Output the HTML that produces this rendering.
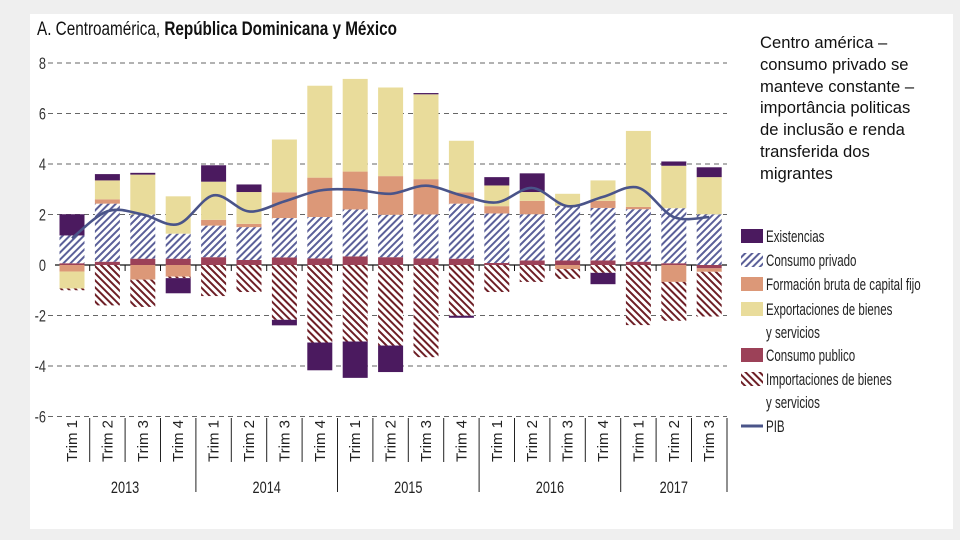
<!DOCTYPE html>
<html><head><meta charset="utf-8"><style>
html,body{margin:0;padding:0;width:960px;height:540px;overflow:hidden;background:#efefef;font-family:"Liberation Sans",sans-serif}
svg{position:absolute;left:0;top:0}
.note{position:absolute;left:760px;top:32px;font-family:"Liberation Sans",sans-serif;font-size:16.6px;line-height:21.8px;color:#111;white-space:nowrap}
</style></head><body>
<svg id="chart" width="960" height="540">
<defs>
<pattern id="hPriv" patternUnits="userSpaceOnUse" width="5" height="5" patternTransform="rotate(-45)">
<rect width="5" height="5" fill="#fff"/><rect width="5" height="2" fill="#5b6099"/></pattern>
<pattern id="hImp" patternUnits="userSpaceOnUse" width="5" height="5" patternTransform="rotate(45)">
<rect width="5" height="5" fill="#fff"/><rect width="5" height="2" fill="#6e1f26"/></pattern>
</defs>
<rect x="30" y="14" width="923" height="515" fill="#fff"/>
<text x="37" y="35" font-size="19" fill="#111" textLength="360" lengthAdjust="spacingAndGlyphs">A. Centroamérica, <tspan font-weight="bold">República Dominicana y México</tspan></text>
<g id="grid"></g><g id="bars"></g><g id="line"></g><g id="xaxis"></g><g id="legend"></g>
</svg>
<div class="note">Centro américa –<br>consumo privado se<br>manteve constante –<br>importância politicas<br>de inclusão e renda<br>transferida dos<br>migrantes</div>
<script>
const categories=["T1","T2","T3","T4","T1","T2","T3","T4","T1","T2","T3","T4","T1","T2","T3","T4","T1","T2","T3"];
const years=["2013","2014","2015","2016","2017"];
const quarterLabels=["Trim 1","Trim 2","Trim 3","Trim 4","Trim 1","Trim 2","Trim 3","Trim 4","Trim 1","Trim 2","Trim 3","Trim 4","Trim 1","Trim 2","Trim 3","Trim 4","Trim 1","Trim 2","Trim 3"];
const consumoPublico=[0.07,0.13,0.25,0.25,0.31,0.2,0.3,0.26,0.34,0.31,0.26,0.25,0.08,0.18,0.18,0.18,0.13,0.07,-0.13];
const consumoPrivado=[1.1,2.3,1.75,0.99,1.25,1.3,1.56,1.64,1.86,1.68,1.74,2.18,1.96,1.83,2.17,2.08,2.08,2.18,2.01];
const fbkf=[-0.26,0.17,-0.58,-0.46,0.23,0.13,1.02,1.56,1.5,1.53,1.4,0.45,0.29,0.53,-0.16,0.28,0.09,-0.67,-0.14];
const exportaciones=[-0.67,0.75,1.58,1.48,1.51,1.26,2.09,3.64,3.67,3.51,3.36,2.04,0.82,0.35,0.47,0.81,3.01,1.68,1.47];
const importaciones=[-0.07,-1.6,-1.08,-0.06,-1.23,-1.07,-2.17,-3.07,-3.03,-3.19,-3.65,-2.01,-1.07,-0.67,-0.39,-0.31,-2.38,-1.54,-1.77];
const existencias=[0.84,0.25,0.07,-0.6,0.65,0.3,-0.22,-1.1,-1.44,-1.05,0.05,-0.08,0.33,0.74,0,-0.45,0,0.17,0.39];
const pib=[1.06,2.13,2.0,1.62,2.76,2.12,2.52,2.95,2.98,2.82,3.14,2.76,2.48,3.05,2.33,2.7,3.06,1.9,1.9];
const yTicks=[8,6,4,2,0,-2,-4,-6];

const NS="http://www.w3.org/2000/svg";
function mk(tag,attrs,parent){const e=document.createElementNS(NS,tag);for(const k in attrs)e.setAttribute(k,attrs[k]);parent.appendChild(e);return e;}
const y=v=>265-v*25.25;
const x=i=>72+i*35.4;
const bw=25;
const grid=document.getElementById('grid');
yTicks.forEach(t=>{
  const g=mk('g',{transform:`translate(46,${y(t)+6}) scale(0.75,1)`},grid);
  const lbl=mk('text',{x:0,y:0,'font-size':17,fill:'#333','text-anchor':'end'},g);lbl.textContent=t;
  
  
  if(t!==0){const l=mk('line',{x1:48,x2:727,y1:y(t),y2:y(t),stroke:'#666','stroke-dasharray':'5,4','stroke-width':1},grid);
  
  }
});
const series=[
 {name:'consumo-publico',d:consumoPublico,fill:'#9c4158'},
 {name:'consumo-privado',d:consumoPrivado,fill:'url(#hPriv)'},
 {name:'formacion-bruta',d:fbkf,fill:'#dc9878'},
 {name:'exportaciones',d:exportaciones,fill:'#e9dc9b'},
 {name:'importaciones',d:importaciones,fill:'url(#hImp)'},
 {name:'existencias',d:existencias,fill:'#4b1a5f'}];
const bars=document.getElementById('bars');
categories.forEach((c,i)=>{
  let pos=0,neg=0;
  series.forEach(s=>{
    const v=s.d[i];if(!v)return;
    let a,b;
    if(v>0){a=pos;b=pos+v;pos=b;}else{a=neg;b=neg+v;neg=b;}
    const r=mk('rect',{x:x(i)-bw/2,y:Math.min(y(a),y(b)),width:bw,height:Math.abs(y(a)-y(b)),fill:s.fill},bars);
    
    
  });
});
const zl=mk('line',{x1:55,x2:727,y1:y(0),y2:y(0),stroke:'#111','stroke-width':1.3},grid);


for(let i=1;i<categories.length;i++){const t=mk('line',{x1:x(i)-17.7,x2:x(i)-17.7,y1:y(0),y2:y(0)+6,stroke:'#111'},grid);

}
const pts=pib.map((v,i)=>[x(i),y(v)]);
let d='M'+pts[0][0]+','+pts[0][1];
for(let i=0;i<pts.length-1;i++){
 const p0=pts[Math.max(0,i-1)],p1=pts[i],p2=pts[i+1],p3=pts[Math.min(pts.length-1,i+2)];
 const c1=[p1[0]+(p2[0]-p0[0])/6,p1[1]+(p2[1]-p0[1])/6],c2=[p2[0]-(p3[0]-p1[0])/6,p2[1]-(p3[1]-p1[1])/6];
 d+=` C${c1[0]},${c1[1]} ${c2[0]},${c2[1]} ${p2[0]},${p2[1]}`;
}
const pl=mk('path',{d:d,fill:'none',stroke:'#4a5489','stroke-width':2.6},document.getElementById('line'));


const xa=document.getElementById('xaxis');
quarterLabels.forEach((q,i)=>{
  const t=mk('text',{x:0,y:0,'font-size':15,fill:'#222','text-anchor':'end',transform:`translate(${x(i)+5},420) rotate(-90)`},xa);
  t.textContent=q;
  
  
  if(i>0){const l=mk('line',{x1:x(i)-17.7,x2:x(i)-17.7,y1:418,y2:i%4===0?492:462,stroke:'#222'},xa);
  
  }
});
const l2=mk('line',{x1:727,x2:727,y1:418,y2:492,stroke:'#222'},xa);


years.forEach((yr,k)=>{
  const n=Math.min(4,categories.length-k*4);
  const cx=(x(k*4)+x(k*4+n-1))/2;
  const g=mk('g',{transform:`translate(${cx},493) scale(0.75,1)`},xa);
  const t=mk('text',{x:0,y:0,'font-size':17,fill:'#222','text-anchor':'middle'},g);
  t.textContent=yr;
  
  
});
const lg=document.getElementById('legend');
const items=[['Existencias','#4b1a5f',236,null],['Consumo privado','url(#hPriv)',260,null],['Formación bruta de capital fijo','#dc9878',284,null],['Exportaciones de bienes','#e9dc9b',309,'y servicios'],['Consumo publico','#9c4158',355,null],['Importaciones de bienes','url(#hImp)',379,'y servicios'],['PIB',null,426,null]];
items.forEach(it=>{
  if(it[1]){const r=mk('rect',{x:741,y:it[2]-7,width:22,height:14,fill:it[1]},lg);
   
   }
  else{const r=mk('line',{x1:741,x2:763,y1:it[2],y2:it[2],stroke:'#4a5489','stroke-width':3},lg);
   
   }
  const g=mk('g',{transform:`translate(766,${it[2]+6}) scale(0.68,1)`},lg);
  const t=mk('text',{x:0,y:0,'font-size':17,fill:'#222'},g);t.textContent=it[0];
  
  
  if(it[3]){const t2=mk('text',{x:0,y:23,'font-size':17,fill:'#222'},g);t2.textContent=it[3];
   
   }
});
</script>
</body></html>
